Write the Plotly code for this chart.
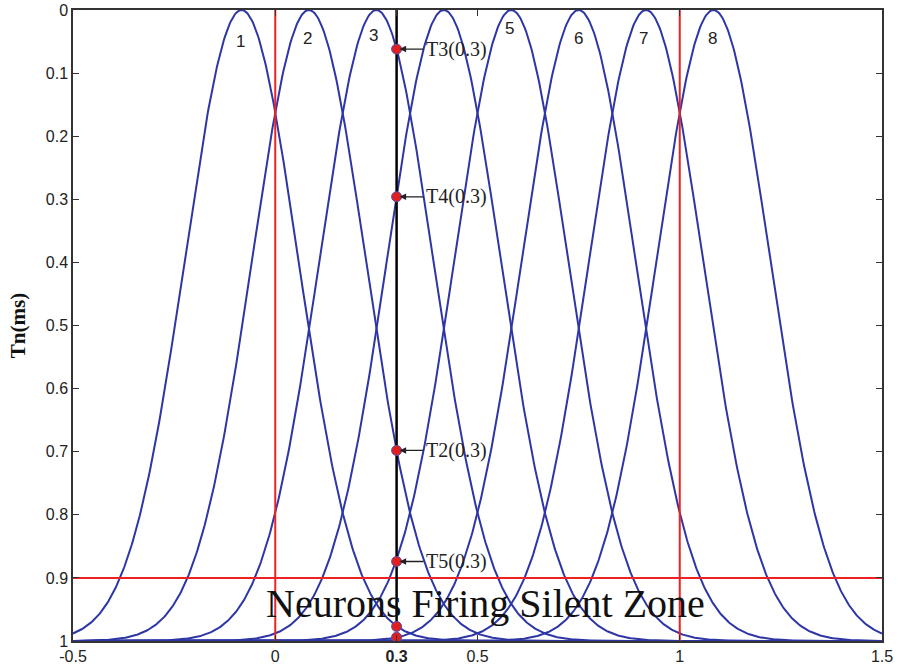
import numpy as np
import plotly.graph_objects as go

# Gaussian membership curves (inverted: y = 1 - g(x))
neuron_labels = ["1", "2", "3", "4", "5", "6", "7", "8"]
centers = [-0.0833, 0.0833, 0.25, 0.4167, 0.5833, 0.75, 0.9167, 1.0833]
sigma = 0.14
x_grid = np.linspace(-0.5, 1.5, 801)

# labels over peaks (4 is hidden in original)
label_names = ["1", "2", "3", "5", "6", "7", "8"]
label_x = [-0.087, 0.08, 0.242, 0.58, 0.75, 0.91, 1.08]
label_y = [0.05, 0.045, 0.04, 0.03, 0.045, 0.045, 0.045]

# sampled points at x = 0.3
probe_x = 0.3
point_names = ["T1", "T2", "T3", "T4", "T5", "T6"]
point_y = [0.977, 0.698, 0.062, 0.296, 0.874, 0.994]
annot_names = ["T3(0.3)", "T4(0.3)", "T2(0.3)", "T5(0.3)"]
annot_y = [0.062, 0.296, 0.698, 0.874]

x_ticks = [-0.5, 0, 0.3, 0.5, 1, 1.5]
x_ticktext = ["-0.5", "0", "<b>0.3</b>", "0.5", "1", "1.5"]
y_ticks = [0, 0.1, 0.2, 0.3, 0.4, 0.5, 0.6, 0.7, 0.8, 0.9, 1]
y_ticktext = ["0", "0.1", "0.2", "0.3", "0.4", "0.5", "0.6", "0.7", "0.8", "0.9", "1"]

red_vlines = [0, 1]
red_hline = 0.9

blue = "#2e36a6"
fig = go.Figure()

for name, c in zip(neuron_labels, centers):
    y = 1 - np.exp(-(x_grid - c) ** 2 / (2 * sigma ** 2))
    fig.add_trace(go.Scatter(x=x_grid, y=y, mode="lines", line=dict(color=blue, width=2),
                             name=name, showlegend=False, hoverinfo="skip"))

# red lines
for xv in red_vlines:
    fig.add_trace(go.Scatter(x=[xv, xv], y=[0, 1], mode="lines",
                             line=dict(color="#ee2222", width=2), showlegend=False))
fig.add_trace(go.Scatter(x=[-0.5, 1.5], y=[red_hline, red_hline], mode="lines",
                         line=dict(color="#ee2222", width=2), showlegend=False))

# black probe line
fig.add_trace(go.Scatter(x=[probe_x, probe_x], y=[0, max(point_y[:5])], mode="lines",
                         line=dict(color="black", width=2.5), showlegend=False))

# points
fig.add_trace(go.Scatter(x=[probe_x] * len(point_y), y=point_y, mode="markers",
                         marker=dict(color="#e02020", size=10, line=dict(color="#5050b0", width=1)),
                         showlegend=False))

serif = "Liberation Serif, Times New Roman, serif"
annotations = []
for nm, yv in zip(annot_names, annot_y):
    annotations.append(dict(x=probe_x, y=yv, xref="x", yref="y", text=nm,
                            showarrow=True, ax=27, ay=0, xanchor="left", yanchor="middle",
                            arrowhead=2, arrowsize=1, arrowwidth=1.3, arrowcolor="#222", standoff=3,
                            font=dict(family=serif, size=20, color="#222")))
for nm, lx, ly in zip(label_names, label_x, label_y):
    annotations.append(dict(x=lx, y=ly, xref="x", yref="y", text=nm, showarrow=False,
                            font=dict(family="Liberation Sans, Arial", size=17, color="#222")))
annotations.append(dict(x=0.52, y=0.94, xref="x", yref="y", text="Neurons Firing Silent Zone",
                        showarrow=False, font=dict(family=serif, size=40, color="#111")))

fig.update_layout(
    width=899, height=672,
    margin=dict(l=73, r=17, t=10, b=31),
    plot_bgcolor="white", paper_bgcolor="white",
    annotations=annotations,
    xaxis=dict(range=[-0.5, 1.5], tickvals=x_ticks, ticktext=x_ticktext, automargin=False,
               ticks="inside", ticklen=6, tickcolor="#333", mirror="ticks",
               showline=True, linecolor="#333", linewidth=1.5, showgrid=False, zeroline=False,
               tickfont=dict(family="Liberation Sans, Arial", size=16, color="#222")),
    yaxis=dict(range=[1, 0], tickvals=y_ticks, ticktext=y_ticktext, automargin=False,
               ticks="inside", ticklen=6, tickcolor="#333", mirror="ticks",
               showline=True, linecolor="#333", linewidth=1.5, showgrid=False, zeroline=False,
               title=dict(text="<b>Tn(ms)</b>", font=dict(family=serif, size=21, color="#111"), standoff=14),
               tickfont=dict(family="Liberation Sans, Arial", size=16, color="#222")),
)

fig.write_html("out.html")
